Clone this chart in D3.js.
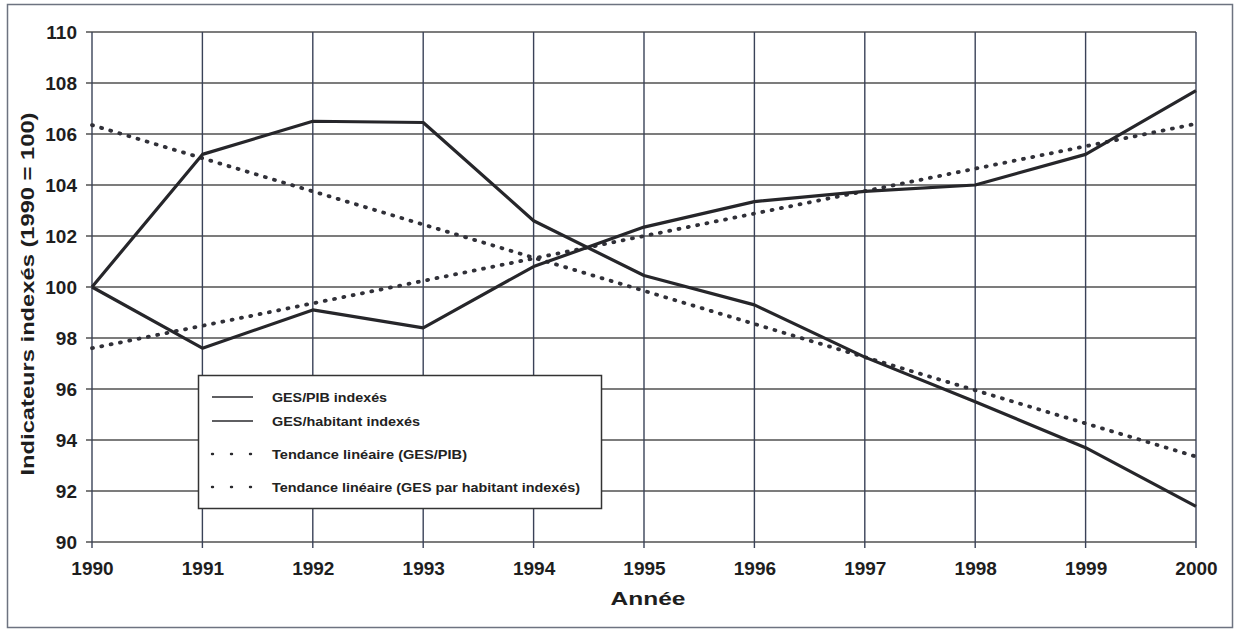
<!DOCTYPE html>
<html>
<head>
<meta charset="utf-8">
<script src="https://cdn.jsdelivr.net/npm/d3@7"></script>
<style>
    body { margin: 0; background: #fff; }
    svg { display: block; font-family: "Liberation Sans", Arial, sans-serif; font-weight: bold; }
</style>
</head>
<body>
<div id="canvas"></div>
<script>
"use strict"

/* ************ data ************ */
let years = [1990, 1991, 1992, 1993, 1994, 1995, 1996, 1997, 1998, 1999, 2000];
let gesPib = [100, 105.2, 106.5, 106.45, 102.6, 100.45, 99.3, 97.25, 95.5, 93.7, 91.4];
let gesHab = [100, 97.6, 99.1, 98.4, 100.8, 102.35, 103.35, 103.75, 104.0, 105.2, 107.7];
let trendYears = [1990, 2000];
let trendPib = [106.35, 93.35];
let trendHab = [97.6, 106.4];
let yTicks = [90, 92, 94, 96, 98, 100, 102, 104, 106, 108, 110];
let legendLabels = ["GES/PIB indexés", "GES/habitant indexés", "Tendance linéaire (GES/PIB)", "Tendance linéaire (GES par habitant indexés)"];
let legendWidths = [115, 148, 195, 308];

let W = 1237, H = 637;
let drawing = d3.select("#canvas")
    .append("svg")
    .attr("width", W)
    .attr("height", H);

// outer frame
drawing.append("rect")
    .attr("x", 7.5).attr("y", 4.5)
    .attr("width", 1225).attr("height", 623)
    .attr("fill", "#fff")
    .attr("stroke", "#6d7380")
    .attr("stroke-width", 1.5);

let x = d3.scaleLinear().domain([1990, 2000]).range([92, 1196]);
let y = d3.scaleLinear().domain([90, 110]).range([542, 32]);

/* ************ grid and axes ************ */
let grid = drawing.append("g");

grid.selectAll("line.h")
    .data(yTicks)
    .join("line")
    .attr("class", "h")
    .attr("x1", x(1990) - 6).attr("x2", x(2000))
    .attr("y1", d => y(d)).attr("y2", d => y(d))
    .attr("stroke", "#505050")
    .attr("stroke-width", 1.4);

grid.selectAll("line.v")
    .data(years)
    .join("line")
    .attr("class", "v")
    .attr("x1", d => x(d)).attr("x2", d => x(d))
    .attr("y1", y(110)).attr("y2", y(90) + 6)
    .attr("stroke", "#3a4258")
    .attr("stroke-width", 1.4);

let yAxis = d3.axisLeft(y).tickValues(yTicks).tickSize(0).tickPadding(15);
drawing.append("g")
    .attr("transform", `translate(${x(1990)},0)`)
    .call(yAxis)
    .call(g => g.select(".domain").remove())
    .selectAll("text")
    .attr("font-size", 19)
    .attr("font-family", "Liberation Sans, Arial, sans-serif")
    .attr("font-weight", "bold")
    .attr("fill", "#1e1e1e");

let xAxis = d3.axisBottom(x).tickValues(years).tickFormat(d3.format("d")).tickSize(0).tickPadding(20);
drawing.append("g")
    .attr("transform", `translate(0,${y(90)})`)
    .call(xAxis)
    .call(g => g.select(".domain").remove())
    .selectAll("text")
    .attr("font-size", 19)
    .attr("font-family", "Liberation Sans, Arial, sans-serif")
    .attr("font-weight", "bold")
    .attr("fill", "#1e1e1e");

// axis titles
drawing.append("text")
    .attr("x", 648).attr("y", 605)
    .attr("text-anchor", "middle")
    .attr("font-size", 19)
    .attr("textLength", 75)
    .attr("lengthAdjust", "spacingAndGlyphs")
    .attr("fill", "#1e1e1e")
    .text("Année");

drawing.append("text")
    .attr("transform", "translate(34,294) rotate(-90)")
    .attr("text-anchor", "middle")
    .attr("font-size", 18)
    .attr("textLength", 363)
    .attr("lengthAdjust", "spacingAndGlyphs")
    .attr("fill", "#1e1e1e")
    .text("Indicateurs indexés (1990 = 100)");

/* ************ series ************ */
let line = d3.line().x(d => x(d[0])).y(d => y(d[1]));

function drawTrend(values) {
    drawing.append("path")
        .datum(d3.zip(trendYears, values))
        .attr("d", line)
        .attr("fill", "none")
        .attr("stroke", "#303038")
        .attr("stroke-width", 3.8)
        .attr("stroke-linecap", "round")
        .attr("stroke-dasharray", "1,8.5");
}

function drawSeries(values) {
    drawing.append("path")
        .datum(d3.zip(years, values))
        .attr("d", line)
        .attr("fill", "none")
        .attr("stroke", "#26262a")
        .attr("stroke-width", 3.2)
        .attr("stroke-linejoin", "round");
}

drawTrend(trendPib);
drawTrend(trendHab);
drawSeries(gesPib);
drawSeries(gesHab);

/* ************ legend ************ */
let legend = drawing.append("g");
legend.append("rect")
    .attr("x", 198.5).attr("y", 375.5)
    .attr("width", 403).attr("height", 133)
    .attr("fill", "#fff")
    .attr("stroke", "#333")
    .attr("stroke-width", 1.5);

let rowY = [397, 421, 454, 487];
legendLabels.forEach((label, i) => {
    let sample = legend.append("line")
        .attr("x1", 212).attr("x2", 253)
        .attr("y1", rowY[i]).attr("y2", rowY[i])
        .attr("stroke", "#2a2a2e");
    if (i < 2) {
        sample.attr("stroke-width", 1.5);
    } else {
        sample.attr("stroke-width", 2.4)
            .attr("stroke-linecap", "round")
            .attr("stroke-dasharray", "1,18");
    }
    legend.append("text")
        .attr("x", 272).attr("y", rowY[i] + 4.5)
        .attr("font-size", 12)
        .attr("textLength", legendWidths[i])
        .attr("lengthAdjust", "spacingAndGlyphs")
        .attr("fill", "#222")
        .text(label);
});
</script>
</body>
</html>
